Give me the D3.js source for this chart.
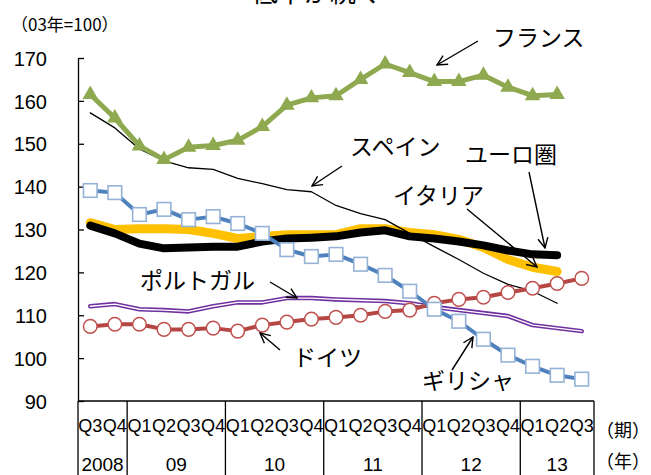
<!DOCTYPE html>
<html>
<head>
<meta charset="utf-8">
<script src="https://cdn.jsdelivr.net/npm/d3@7"></script>
<style>
  body { margin: 0; background: #fff; }
  svg { display: block; }
</style>
</head>
<body>
<svg id="chart" width="651" height="475"></svg>
<script>
// Quarter labels, 2008Q3 .. 2013Q3
const quarters = ["Q3","Q4",
  "Q1","Q2","Q3","Q4",
  "Q1","Q2","Q3","Q4",
  "Q1","Q2","Q3","Q4",
  "Q1","Q2","Q3","Q4",
  "Q1","Q2","Q3"];
const yearLabels = ["2008", "09", "10", "11", "12", "13"];
const yearQuarterCounts = [2, 4, 4, 4, 4, 3];
const yTicks = [90, 100, 110, 120, 130, 140, 150, 160, 170];

// Index, 2003 = 100
const france   = [161.5, 156.0, 149.5, 146.3, 149.2, 149.6, 150.8, 154.0, 159.0, 160.7,
                  161.2, 165.0, 168.6, 166.6, 164.5, 164.5, 166.0, 163.2, 161.2, 161.5];
const spain    = [157.2, 153.7, 148.8, 146.0, 144.4, 144.0, 141.9, 140.7, 139.3, 138.8,
                  135.6, 133.7, 132.3, 129.1, 126.0, 123.0, 119.8, 117.2, 115.6, 112.8];
const greece   = [139.1, 138.6, 133.5, 134.7, 132.3, 133.0, 131.4, 129.1, 125.3, 123.7,
                  124.2, 121.9, 119.3, 115.6, 111.4, 108.6, 104.4, 100.7, 98.1, 96.0, 95.1];
const italy    = [131.6, 130.0, 130.2, 130.2, 130.0, 129.1, 127.9, 128.4, 128.8, 128.8,
                  128.8, 130.2, 130.2, 129.3, 128.8, 127.7, 125.8, 123.0, 121.2, 120.2];
const euroArea = [130.9, 129.1, 126.7, 125.6, 125.8, 126.0, 126.0, 127.2, 127.9, 128.1,
                  128.4, 129.3, 129.8, 128.4, 127.9, 127.2, 126.3, 125.1, 124.2, 124.0];
const portugal = [112.1, 112.6, 111.4, 111.2, 110.9, 112.1, 113.0, 113.0, 114.0, 114.0,
                  113.7, 113.5, 113.3, 112.8, 111.9, 111.2, 110.5, 109.8, 107.7, 107.0, 106.3];
const germany  = [107.4, 107.9, 107.9, 106.7, 106.7, 107.0, 106.3, 107.7, 108.4, 109.1,
                  109.5, 110.0, 110.9, 111.2, 112.8, 113.7, 114.2, 115.3, 116.3, 117.4, 118.6];

// Series labels with pointer arrows (text left/centre, arrow from -> to)
const annotations = [
  { text: "フランス",   tx: 493, ty: 38,  x1: 478, y1: 41,  x2: 437, y2: 65 },
  { text: "スペイン",   tx: 350, ty: 147, x1: 342, y1: 166, x2: 312, y2: 186 },
  { text: "ユーロ圏",   tx: 465, ty: 155, x1: 529, y1: 172, x2: 545, y2: 248 },
  { text: "イタリア",   tx: 393, ty: 196, x1: 467, y1: 209, x2: 537, y2: 267 },
  { text: "ポルトガル", tx: 140, ty: 281, x1: 270, y1: 282, x2: 297, y2: 298 },
  { text: "ドイツ",     tx: 293, ty: 358, x1: 280, y1: 350, x2: 260, y2: 333 },
  { text: "ギリシャ",   tx: 422, ty: 381, x1: 452, y1: 370, x2: 473, y2: 337 }
];

const JP = "'Noto Sans CJK JP', 'Noto Sans', sans-serif";
const NUM = "'Liberation Sans', Arial, sans-serif";

const svg = d3.select("#chart");
const plotLeft = 78, plotRight = 594, plotTop = 58, plotBottom = 401, svgH = 475;

const x = d3.scaleBand().domain(d3.range(quarters.length)).range([plotLeft, plotRight]);
const cx = i => x(i) + x.bandwidth() / 2;
const y = d3.scaleLinear().domain([90, 170]).range([plotBottom, plotTop]);

// Heading, running off the top edge
svg.append("text")
  .attr("x", 252).attr("y", 2)
  .attr("font-family", JP).attr("font-size", 26)
  .text("低下が続く");

// Unit label
svg.append("text")
  .attr("x", 11).attr("y", 31)
  .attr("font-family", JP).attr("font-size", 17)
  .text("（03年=100）");

// Y axis, ticks pointing inward
const yAxis = svg.append("g")
  .attr("transform", `translate(${plotLeft},0)`)
  .call(d3.axisLeft(y).tickValues(yTicks).tickSizeInner(-6).tickSizeOuter(0).tickPadding(31));
yAxis.select(".domain").attr("stroke", "#000").attr("stroke-width", 1.3);
yAxis.selectAll(".tick line").attr("stroke", "#000").attr("stroke-width", 1.3);
yAxis.selectAll(".tick text")
  .attr("font-family", NUM).attr("font-size", 20).attr("fill", "#000").attr("dy", "0.36em");

// X axis with quarter labels
const xAxis = svg.append("g")
  .attr("transform", `translate(0,${plotBottom})`)
  .call(d3.axisBottom(x).tickFormat(i => quarters[i]).tickSize(0).tickPadding(0));
xAxis.select(".domain").remove();
xAxis.selectAll(".tick text")
  .attr("font-family", NUM).attr("font-size", 19).attr("fill", "#000")
  .attr("y", 31).attr("dy", 0)
  .attr("textLength", x.bandwidth() - 0.5).attr("lengthAdjust", "spacingAndGlyphs");

// Category table frame: baseline, outer borders, year separators
const frame = svg.append("g").attr("stroke", "#000").attr("stroke-width", 1.3);
frame.append("line").attr("x1", plotLeft).attr("x2", plotRight).attr("y1", plotBottom).attr("y2", plotBottom);
let acc = 0;
const bounds = [0];
yearQuarterCounts.forEach(n => { acc += n; bounds.push(acc); });
const boundX = b => (b < quarters.length ? x(b) : plotRight);
bounds.forEach(b => {
  const bx = boundX(b);
  frame.append("line").attr("x1", bx).attr("x2", bx).attr("y1", plotBottom).attr("y2", svgH);
});
yearLabels.forEach((lab, k) => {
  svg.append("text")
    .attr("x", (boundX(bounds[k]) + boundX(bounds[k + 1])) / 2).attr("y", 471)
    .attr("text-anchor", "middle")
    .attr("font-family", NUM).attr("font-size", 19)
    .text(lab);
});

// Axis unit labels at the right
svg.append("text").attr("x", 596).attr("y", 437)
  .attr("font-family", JP).attr("font-size", 18).text("（期）");
svg.append("text").attr("x", 596).attr("y", 468)
  .attr("font-family", JP).attr("font-size", 18).text("（年）");

const line = d3.line().x((d, i) => cx(i)).y(d => y(d));

function path(data, color, width) {
  return svg.append("path").datum(data)
    .attr("fill", "none").attr("stroke", color).attr("stroke-width", width)
    .attr("stroke-linejoin", "round").attr("stroke-linecap", "round")
    .attr("d", line);
}

// Italy and euro area (thick lines)
path(italy, "#FFC000", 9);
path(euroArea, "#000", 8);

// Spain (thin line)
path(spain, "#000", 1.3);

// Portugal (purple double line)
path(portugal, "#7030A0", 4.5);
path(portugal, "#fff", 1.4);

// Germany (circles)
path(germany, "#B64643", 4);
svg.append("g").selectAll("circle").data(germany).join("circle")
  .attr("cx", (d, i) => cx(i)).attr("cy", d => y(d)).attr("r", 6.8)
  .attr("fill", "#fff").attr("stroke", "#C0504D").attr("stroke-width", 1.5);

// Greece (squares)
path(greece, "#4F81BD", 4);
svg.append("g").selectAll("rect").data(greece).join("rect")
  .attr("x", (d, i) => cx(i) - 6.8).attr("y", d => y(d) - 6.8)
  .attr("width", 13.6).attr("height", 13.6)
  .attr("fill", "#fff").attr("stroke", "#95B3D7").attr("stroke-width", 1.6);

// France (triangles)
path(france, "#8EA94F", 5);
svg.append("g").selectAll("path").data(france).join("path")
  .attr("transform", (d, i) => `translate(${cx(i)},${y(d)})`)
  .attr("d", d3.symbol(d3.symbolTriangle, 105))
  .attr("fill", "#8EA94F");

// Pointer arrows and series names
svg.append("defs").append("marker")
  .attr("id", "arrowhead")
  .attr("viewBox", "0 0 12 12")
  .attr("refX", 11).attr("refY", 6)
  .attr("markerWidth", 12).attr("markerHeight", 12)
  .attr("markerUnits", "userSpaceOnUse")
  .attr("orient", "auto")
  .append("path")
  .attr("d", "M1,1 L11,6 L1,11")
  .attr("fill", "none").attr("stroke", "#000").attr("stroke-width", 1.4);

const ann = svg.append("g");
annotations.forEach(a => {
  ann.append("line")
    .attr("x1", a.x1).attr("y1", a.y1).attr("x2", a.x2).attr("y2", a.y2)
    .attr("stroke", "#000").attr("stroke-width", 1.4)
    .attr("marker-end", "url(#arrowhead)");
  ann.append("text")
    .attr("x", a.tx).attr("y", a.ty).attr("dy", "0.36em")
    .attr("font-family", JP).attr("font-size", 23)
    .text(a.text);
});
</script>
</body>
</html>
